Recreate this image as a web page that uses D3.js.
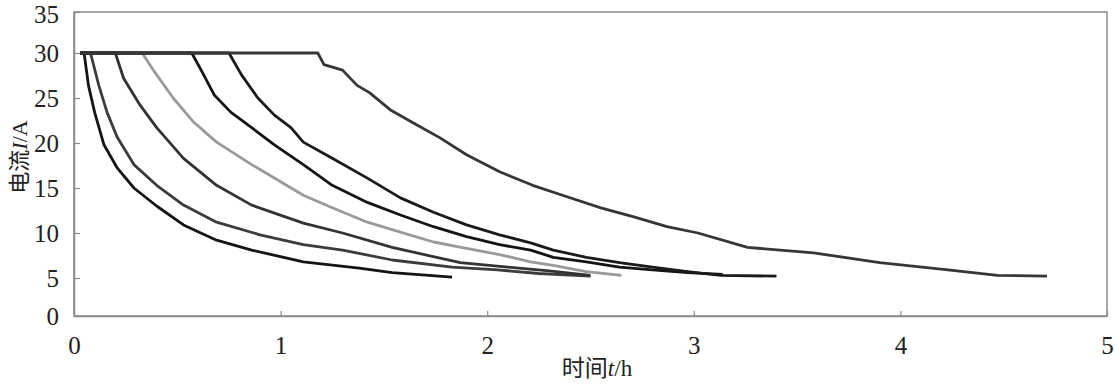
<!DOCTYPE html>
<html>
<head>
<meta charset="utf-8">
<script src="https://cdn.jsdelivr.net/npm/d3@7.9.0/dist/d3.min.js"></script>
<style>
  body { margin: 0; background: #fff; }
  svg text { font-family: "Liberation Serif", "Noto Sans CJK SC", serif; fill: #222; }
</style>
</head>
<body>
<svg id="chart" width="1115" height="384"></svg>
<script>
// charging current curves (t in hours, I in amps)
const t1 = [0.03, 0.04, 0.05, 0.07, 0.10, 0.145, 0.21, 0.29, 0.40, 0.53, 0.69, 0.86, 1.11, 1.38, 1.54, 1.83];
const i1 = [30, 30, 29.8, 26.4, 23.4, 19.8, 17.2, 15.0, 13.0, 10.9, 9.2, 8.1, 6.8, 6.1, 5.6, 5.1];

const t2 = [0.03, 0.08, 0.12, 0.16, 0.21, 0.29, 0.40, 0.53, 0.69, 0.90, 1.11, 1.30, 1.54, 1.83, 2.05, 2.25, 2.50];
const i2 = [30, 30, 26.4, 23.4, 20.6, 17.6, 15.3, 13.1, 11.2, 9.8, 8.7, 8.1, 7.0, 6.2, 5.9, 5.5, 5.2];

const t3 = [0.03, 0.20, 0.24, 0.32, 0.40, 0.53, 0.69, 0.86, 1.11, 1.30, 1.54, 1.87, 2.10, 2.30, 2.50];
const i3 = [30, 30, 27.2, 24.2, 21.7, 18.3, 15.3, 13.1, 11.1, 10.0, 8.4, 6.7, 6.2, 5.8, 5.3];

const t4 = [0.03, 0.33, 0.39, 0.48, 0.58, 0.69, 0.86, 1.00, 1.11, 1.25, 1.42, 1.58, 1.74, 1.90, 2.06, 2.21, 2.32, 2.48, 2.65];
const i4 = [30, 30, 27.9, 25.0, 22.3, 20.1, 17.6, 15.7, 14.2, 12.8, 11.2, 10.1, 9.0, 8.3, 7.6, 6.8, 6.4, 5.7, 5.3];

const t5 = [0.03, 0.57, 0.62, 0.68, 0.76, 0.86, 0.97, 1.11, 1.25, 1.42, 1.58, 1.74, 1.90, 2.06, 2.21, 2.32, 2.48, 2.64, 2.80, 2.97, 3.14];
const i5 = [30, 30, 27.9, 25.3, 23.4, 21.7, 19.8, 17.6, 15.3, 13.4, 12.0, 10.7, 9.6, 8.7, 8.1, 7.3, 6.8, 6.2, 5.9, 5.6, 5.4];

const t6 = [0.03, 0.75, 0.81, 0.89, 0.97, 1.05, 1.11, 1.25, 1.42, 1.58, 1.74, 1.90, 2.06, 2.21, 2.32, 2.48, 2.64, 2.80, 2.97, 3.13, 3.40];
const i6 = [30, 30, 27.6, 25.0, 23.1, 21.7, 20.1, 18.3, 16.1, 13.9, 12.3, 10.9, 9.8, 8.9, 8.1, 7.3, 6.7, 6.2, 5.7, 5.3, 5.2];

const t7 = [0.03, 1.18, 1.21, 1.30, 1.37, 1.43, 1.53, 1.66, 1.77, 1.90, 2.06, 2.22, 2.39, 2.55, 2.71, 2.87, 3.02, 3.26, 3.58, 3.90, 4.23, 4.47, 4.71];
const i7 = [30, 30, 28.7, 28.1, 26.4, 25.6, 23.7, 22.0, 20.6, 18.7, 16.8, 15.3, 14.0, 12.8, 11.8, 10.7, 10.0, 8.4, 7.8, 6.7, 5.9, 5.3, 5.2];

const seriesT = [t1, t2, t3, t4, t5, t6, t7];
const seriesI = [i1, i2, i3, i4, i5, i6, i7];
const seriesColor = ['#141414', '#3c3c3c', '#333333', '#9a9a9a', '#141414', '#1a1a1a', '#363636'];

const xTicks = [0, 1, 2, 3, 4, 5];
const yTicks = [0, 5, 10, 15, 20, 25, 30, 35];

const svg = d3.select('#chart');
const plotLeft = 74, plotRight = 1107, plotTop = 12, plotBottom = 316;

const x = d3.scaleLinear().domain([0, 5]).range([plotLeft, plotRight]);
// the printed tick spacing is a little uneven, so follow it piecewise
const y = d3.scaleLinear().domain([0, 5, 30, 35]).range([plotBottom, 278, 53, plotTop]);

// frame
svg.append('rect')
    .attr('x', plotLeft).attr('y', plotTop)
    .attr('width', plotRight - plotLeft).attr('height', plotBottom - plotTop)
    .attr('fill', 'none').attr('stroke', '#8a8a8a').attr('stroke-width', 1.5);

const xAxis = svg.append('g')
    .attr('transform', `translate(0,${plotBottom})`)
    .call(d3.axisBottom(x).tickValues(xTicks).tickFormat(d3.format('d')).tickSizeInner(-5).tickSizeOuter(0).tickPadding(20));
const yAxis = svg.append('g')
    .attr('transform', `translate(${plotLeft},0)`)
    .call(d3.axisLeft(y).tickValues(yTicks).tickFormat(d3.format('d')).tickSizeInner(-6).tickSizeOuter(0).tickPadding(15));

[xAxis, yAxis].forEach((g) => {
    g.select('.domain').attr('stroke', '#8a8a8a').attr('stroke-width', 1.5);
    g.selectAll('.tick line').attr('stroke', '#8a8a8a').attr('stroke-width', 1.2);
    g.selectAll('.tick text')
        .attr('font-family', '"Liberation Serif", serif')
        .attr('font-size', 25)
        .attr('fill', '#222');
});
yAxis.selectAll('.tick text').attr('dy', '0.34em');
// top label sits right at the edge, nudge it in slightly
yAxis.selectAll('.tick text').filter((d) => d === 35).attr('dy', '0.42em');

const line = d3.line()
    .x((d) => x(d[0]))
    .y((d) => y(d[1]));

seriesT.forEach((ts, idx) => {
    const pts = ts.map((t, k) => [t, seriesI[idx][k]]);
    svg.append('path')
        .attr('d', line(pts))
        .attr('fill', 'none')
        .attr('stroke', seriesColor[idx])
        .attr('stroke-width', 2.8)
        .attr('stroke-linejoin', 'round');
});

// axis titles
const yTitle = svg.append('text')
    .attr('transform', 'translate(27,157) rotate(-90)')
    .attr('text-anchor', 'middle')
    .attr('font-size', 22);
yTitle.append('tspan').attr('font-family', '"Noto Sans CJK SC", sans-serif').text('电流');
yTitle.append('tspan').attr('font-style', 'italic').attr('font-family', '"Liberation Serif", serif').text('I');
yTitle.append('tspan').attr('font-family', '"Liberation Serif", serif').text('/A');

const xTitle = svg.append('text')
    .attr('x', 597).attr('y', 376)
    .attr('text-anchor', 'middle')
    .attr('font-size', 23);
xTitle.append('tspan').attr('font-family', '"Noto Sans CJK SC", sans-serif').text('时间');
xTitle.append('tspan').attr('font-style', 'italic').attr('font-family', '"Liberation Serif", serif').text('t');
xTitle.append('tspan').attr('font-family', '"Liberation Serif", serif').text('/h');
</script>
</body>
</html>
